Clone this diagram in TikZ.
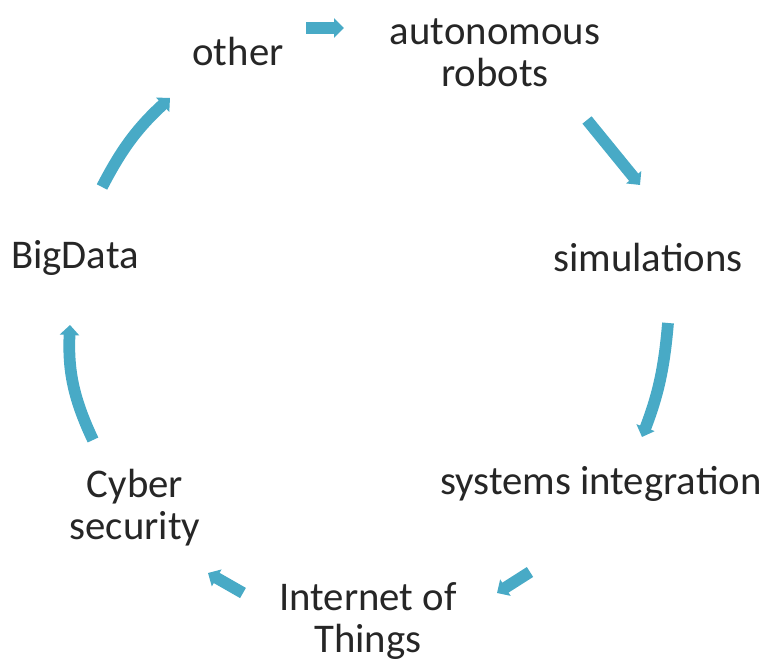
\documentclass[tikz,border=0pt]{standalone}
\usepackage{fontspec}
\setmainfont{Carlito}
\usetikzlibrary{arrows.meta}
\definecolor{cyclearrow}{RGB}{72,170,198}
\tikzset{
  label/.style={align=center, text=black!85, font=\fontsize{23.2}{23.8}\selectfont, inner sep=0pt},
  cyclearr/.style={draw=cyclearrow, line width=0.235cm, -{Triangle[width=0.38cm,length=0.2cm]}}
}
\begin{document}
\begin{tikzpicture}[x=0.02cm,y=0.02cm]
\useasboundingbox (0,0) rectangle (767,661);

\node[label] (other) at (238,609) {other};
\node[label] (robots) at (495,608) {autonomous\\robots};
\node[label] (sim) at (648,403) {simulations};
\node[label] (sys) at (601,177) {systems integration};
\node[label] (iot) at (368,40) {Internet of\\Things};
\node[label] (cyber) at (135,153) {Cyber\\security};
\node[label] (big) at (75,403) {BigData};

\coordinate (a1) at (306,633); \coordinate (b1) at (344,633);
\coordinate (a2) at (587,541); \coordinate (b2) at (640,476);
\coordinate (a3) at (668,338); \coordinate (b3) at (642,224);
\coordinate (a4) at (530,89);  \coordinate (b4) at (497,68);
\coordinate (a5) at (243,68);  \coordinate (b5) at (208,88);
\coordinate (a6) at (93,221);  \coordinate (b6) at (70,336);
\coordinate (a7) at (102,474); \coordinate (b7) at (170,563);

\draw[cyclearr] (a1) -- (b1);
\draw[cyclearr] (a2) -- (b2);
\draw[cyclearr] (a3) to[bend left=8] (b3);
\draw[cyclearr] (a4) -- (b4);
\draw[cyclearr] (a5) -- (b5);
\draw[cyclearr] (a6) to[bend left=14] (b6);
\draw[cyclearr] (a7) to[bend left=10] (b7);
\end{tikzpicture}
\end{document}
